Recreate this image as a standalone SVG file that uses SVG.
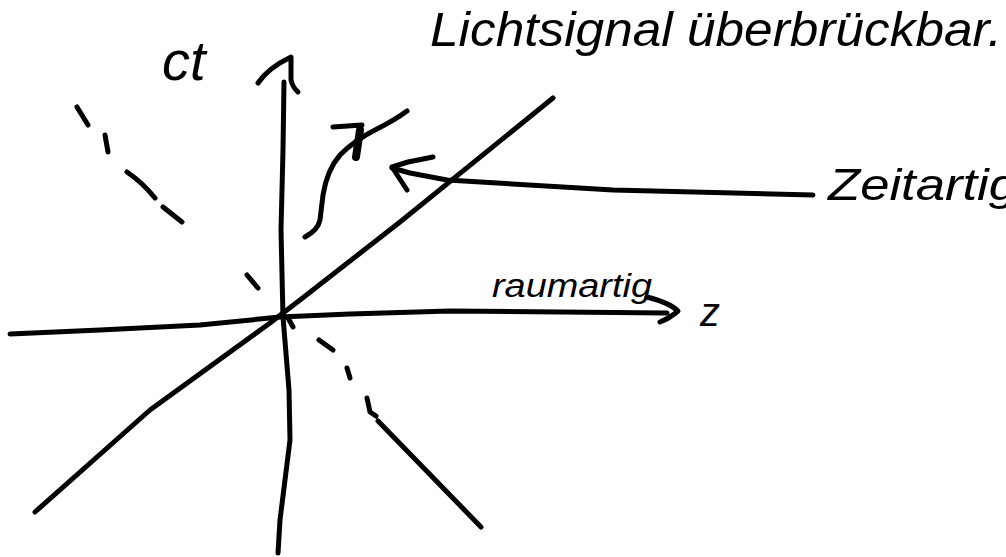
<svg xmlns="http://www.w3.org/2000/svg" width="1006" height="557" viewBox="0 0 1006 557">
<style>
.s{fill:none;stroke:#000;stroke-width:5;stroke-linecap:round;stroke-linejoin:round}
.t{font-family:"Liberation Sans",Arial,sans-serif;font-style:italic;fill:#000}
</style>
<rect width="1006" height="557" fill="#fff"/>
<g id="connectors">
<path class="s" d="M10,334 L100,330 L200,325 L280,317 L350,314 L450,311 L667,313"/>
<path class="s" d="M647,297 Q670,303 678,311 Q670,318 660,322"/>
<path class="s" d="M284,82 L283,150 L281,230 L283,317 L289,390 L290,440 L285,480 L280,520 L278,553"/>
<path class="s" d="M258,83 Q268,68 291,57 L291,80 Q293,88 298,92"/>
<path class="s" d="M35,512 L150,410 L270,323 L300,300 L400,222 L553,98"/>
<path class="s" d="M77,107 L88,125 M105,135 L108,152 M127,172 Q143,183 155,198 M163,207 L182,222 M247,275 L258,288 M288,318 L293,327 M319,340 L333,350 M347,368 L350,378 M367,398 L370,412 L376,416 M378,421 L481,527"/>
<path class="s" d="M305,237 Q318,230 320,220 L323,195 Q327,170 340,155 Q355,140 375,130 Q395,120 407,111"/>
<path class="s" d="M333,127 L362,125"/>
<path class="s" style="stroke-width:8" d="M360,130 L356,157"/>
<path class="s" d="M813,195 L613,190 L447,180 L410,173 L392,168"/>
<path class="s" d="M433,157 L408,162 L392,167 L407,190"/>
</g>
<g id="label-top"><text class="t" x="430" y="46" font-size="48" textLength="572" lengthAdjust="spacingAndGlyphs">Lichtsignal überbrückbar.</text></g>
<g id="label-ct"><text class="t" x="162" y="80" font-size="56">ct</text></g>
<g id="label-z"><text class="t" x="700" y="326" font-size="40">z</text></g>
<g id="label-raumartig"><text class="t" x="492" y="297" font-size="34" textLength="160" lengthAdjust="spacingAndGlyphs">raumartig</text></g>
<g id="label-zeitartig"><text class="t" x="828" y="200" font-size="44" textLength="190" lengthAdjust="spacingAndGlyphs">Zeitartig</text></g>
</svg>
